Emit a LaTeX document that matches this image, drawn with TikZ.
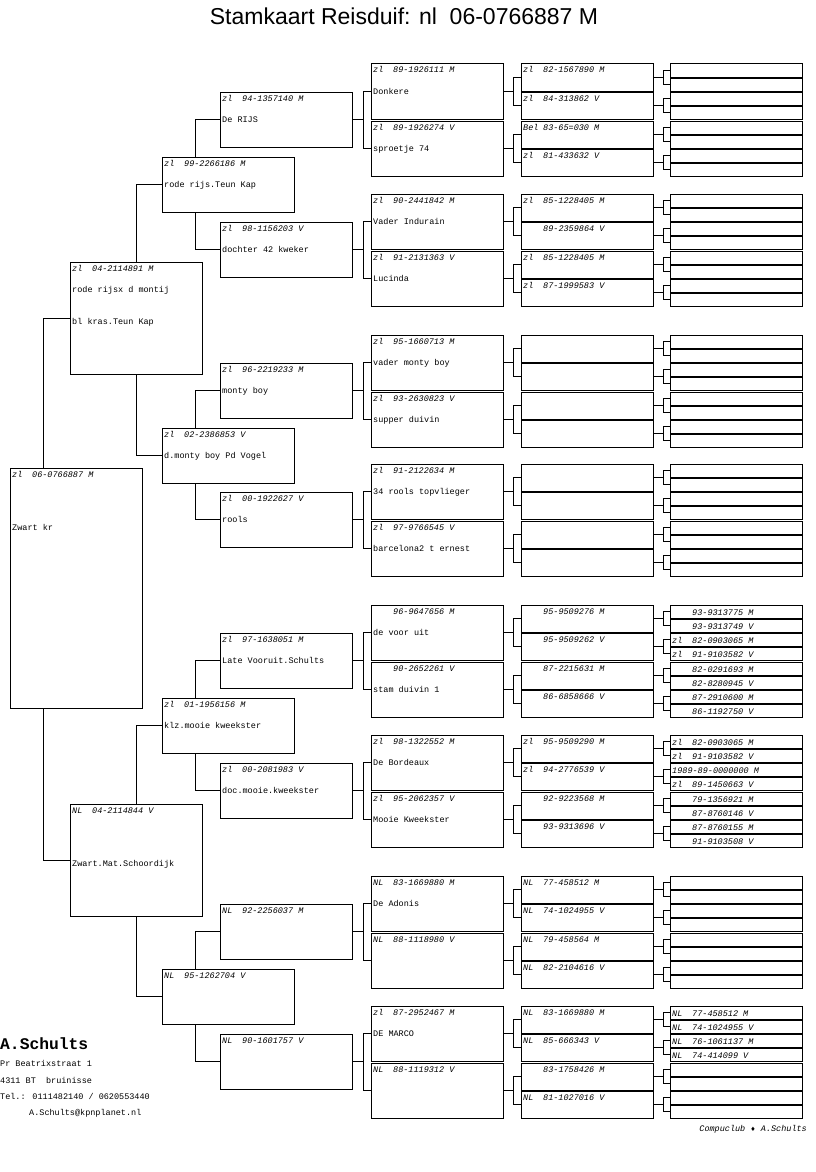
\documentclass[tikz,border=0pt]{standalone}
\usepackage{fontspec}
\setmainfont{Liberation Mono}
\newfontfamily\titlefont{Liberation Sans}
\newfontfamily\symfont{DejaVu Sans}
\usetikzlibrary{calc,positioning}

% ring number at the top of a box, name lines below it
\newcommand{\ring}[4][9]{\node[nr] (#2-r) at ($(#2.north west)+(2,#1)$) {\makebox[20pt][l]{#3}#4};}
\newcommand{\naam}[3][30]{\node[nm] (#2-n#1) at ($(#2.north west)+(2,#1)$) {#3};}

\begin{document}
\begin{tikzpicture}[x=1pt,y=-1pt]
\tikzstyle{box}=[draw,line width=1pt,inner sep=0pt,outer sep=0pt,minimum width=132pt,anchor=north west]
\tikzstyle{big}=[box,minimum height=55pt]
\tikzstyle{half}=[box,minimum height=27pt]
\tikzstyle{quarter}=[box,minimum height=13pt]
\tikzstyle{nr}=[anchor=base west,inner sep=0pt,font=\fontsize{8.5}{9}\selectfont\itshape]
\tikzstyle{nm}=[anchor=base west,inner sep=0pt,font=\fontsize{8.5}{9}\selectfont]
\tikzstyle{edge}=[draw,line width=1pt]

\useasboundingbox (0,0) rectangle (816,1172);

\node[font=\titlefont\fontsize{23}{26}\selectfont,anchor=base,inner sep=0pt] (titel) at (404,25) {Stamkaart Reisduif: nl\ \ 06-0766887 M};

% first three generations
\node[box,minimum height=240pt] (g1) at (10,468) {};
\node[box,minimum height=112pt] (g2-1) at (70,262) {};
\node[box,minimum height=112pt] (g2-2) at (70,804) {};
\node[big] (g3-1) at (162,157) {};
\node[big] (g3-2) at (162,428) {};
\node[big] (g3-3) at (162,698) {};
\node[big] (g3-4) at (162,969) {};

% generations 4 and 5
\foreach \p [count=\k] in {64,194,335,464,605,735,876,1006} {
  \pgfmathtruncatemacro\ja{2*\k-1}
  \pgfmathtruncatemacro\jb{2*\k}
  \node[big] (g4-\k) at (220,\p+28) {};
  \node[big] (g5-\ja) at (371,\p) {};
  \node[big] (g5-\jb) at (371,\p+57) {};
  \draw[edge] (g4-\k.east) -- ++(11,0) |- (g5-\ja.west);
  \draw[edge] (g4-\k.east) -- ++(11,0) |- (g5-\jb.west);
}
% generation 6
\foreach \j in {1,...,16} {
  \pgfmathtruncatemacro\ia{2*\j-1}
  \pgfmathtruncatemacro\ib{2*\j}
  \node[half] (g6-\ia) at ($(g5-\j.north west)+(150,0)$) {};
  \node[half] (g6-\ib) at ($(g5-\j.north west)+(150,28)$) {};
  \draw[edge] (g5-\j.east) -- ++(10,0) |- (g6-\ia.west);
  \draw[edge] (g5-\j.east) -- ++(10,0) |- (g6-\ib.west);
}
% generation 7
\foreach \i in {1,...,32} {
  \pgfmathtruncatemacro\ha{2*\i-1}
  \pgfmathtruncatemacro\hb{2*\i}
  \node[quarter] (g7-\ha) at ($(g6-\i.north west)+(149,0)$) {};
  \node[quarter] (g7-\hb) at ($(g6-\i.north west)+(149,14)$) {};
  \draw[edge] (g6-\i.east) -- ++(10,0) |- (g7-\ha.west);
  \draw[edge] (g6-\i.east) -- ++(10,0) |- (g7-\hb.west);
}

% connectors of the first generations
\draw[edge] ($(g1.north west)!.25!(g1.north east)$) |- (g2-1.west);
\draw[edge] ($(g1.south west)!.25!(g1.south east)$) |- (g2-2.west);
\draw[edge] (g2-1.north) |- (g3-1.west);
\draw[edge] (g2-1.south) |- (g3-2.west);
\draw[edge] (g2-2.north) |- (g3-3.west);
\draw[edge] (g2-2.south) |- (g3-4.west);
\foreach \n in {1,...,4} {
  \pgfmathtruncatemacro\ma{2*\n-1}
  \pgfmathtruncatemacro\mb{2*\n}
  \draw[edge] ($(g3-\n.north west)!.25!(g3-\n.north east)$) |- (g4-\ma.west);
  \draw[edge] ($(g3-\n.south west)!.25!(g3-\n.south east)$) |- (g4-\mb.west);
}

% texts
\ring{g1}{zl}{06-0766887 M} \naam[62]{g1}{Zwart kr}
\ring{g2-1}{zl}{04-2114891 M} \naam{g2-1}{rode rijsx d montij} \naam[62]{g2-1}{bl kras.Teun Kap}
\ring{g2-2}{NL}{04-2114844 V} \naam[62]{g2-2}{Zwart.Mat.Schoordijk}
\ring{g3-1}{zl}{99-2266186 M} \naam{g3-1}{rode rijs.Teun Kap}
\ring{g3-2}{zl}{02-2386853 V} \naam{g3-2}{d.monty boy Pd Vogel}
\ring{g3-3}{zl}{01-1956156 M} \naam{g3-3}{klz.mooie kweekster}
\ring{g3-4}{NL}{95-1262704 V}
\ring{g4-1}{zl}{94-1357140 M} \naam{g4-1}{De RIJS}
\ring{g4-2}{zl}{98-1156203 V} \naam{g4-2}{dochter 42 kweker}
\ring{g4-3}{zl}{96-2219233 M} \naam{g4-3}{monty boy}
\ring{g4-4}{zl}{00-1922627 V} \naam{g4-4}{rools}
\ring{g4-5}{zl}{97-1638051 M} \naam{g4-5}{Late Vooruit.Schults}
\ring{g4-6}{zl}{00-2081983 V} \naam{g4-6}{doc.mooie.kweekster}
\ring{g4-7}{NL}{92-2256037 M}
\ring{g4-8}{NL}{90-1601757 V}

\ring{g5-1}{zl}{89-1926111 M} \naam{g5-1}{Donkere}
\ring{g5-2}{zl}{89-1926274 V} \naam{g5-2}{sproetje 74}
\ring{g5-3}{zl}{90-2441842 M} \naam{g5-3}{Vader Indurain}
\ring{g5-4}{zl}{91-2131363 V} \naam{g5-4}{Lucinda}
\ring{g5-5}{zl}{95-1660713 M} \naam{g5-5}{vader monty boy}
\ring{g5-6}{zl}{93-2630823 V} \naam{g5-6}{supper duivin}
\ring{g5-7}{zl}{91-2122634 M} \naam{g5-7}{34 rools topvlieger}
\ring{g5-8}{zl}{97-9766545 V} \naam{g5-8}{barcelona2 t ernest}
\ring{g5-9}{}{96-9647656 M} \naam{g5-9}{de voor uit}
\ring{g5-10}{}{90-2652261 V} \naam{g5-10}{stam duivin 1}
\ring{g5-11}{zl}{98-1322552 M} \naam{g5-11}{De Bordeaux}
\ring{g5-12}{zl}{95-2062357 V} \naam{g5-12}{Mooie Kweekster}
\ring{g5-13}{NL}{83-1669880 M} \naam{g5-13}{De Adonis}
\ring{g5-14}{NL}{88-1118980 V}
\ring{g5-15}{zl}{87-2952467 M} \naam{g5-15}{DE MARCO}
\ring{g5-16}{NL}{88-1119312 V}

\ring{g6-1}{zl}{82-1567890 M}
\ring{g6-2}{zl}{84-313862 V}
\ring{g6-3}{Bel}{83-65=030 M}
\ring{g6-4}{zl}{81-433632 V}
\ring{g6-5}{zl}{85-1228405 M}
\ring{g6-6}{}{89-2359864 V}
\ring{g6-7}{zl}{85-1228405 M}
\ring{g6-8}{zl}{87-1999583 V}
\ring{g6-17}{}{95-9509276 M}
\ring{g6-18}{}{95-9509262 V}
\ring{g6-19}{}{87-2215631 M}
\ring{g6-20}{}{86-6858666 V}
\ring{g6-21}{zl}{95-9509290 M}
\ring{g6-22}{zl}{94-2776539 V}
\ring{g6-23}{}{92-9223568 M}
\ring{g6-24}{}{93-9313696 V}
\ring{g6-25}{NL}{77-458512 M}
\ring{g6-26}{NL}{74-1024955 V}
\ring{g6-27}{NL}{79-458564 M}
\ring{g6-28}{NL}{82-2104616 V}
\ring{g6-29}{NL}{83-1669880 M}
\ring{g6-30}{NL}{85-666343 V}
\ring{g6-31}{}{83-1758426 M}
\ring{g6-32}{NL}{81-1027016 V}

\ring[10]{g7-33}{}{93-9313775 M}
\ring[10]{g7-34}{}{93-9313749 V}
\ring[10]{g7-35}{zl}{82-0903065 M}
\ring[10]{g7-36}{zl}{91-9103582 V}
\ring[10]{g7-37}{}{82-0291693 M}
\ring[10]{g7-38}{}{82-8280945 V}
\ring[10]{g7-39}{}{87-2910600 M}
\ring[10]{g7-40}{}{86-1192750 V}
\ring[10]{g7-41}{zl}{82-0903065 M}
\ring[10]{g7-42}{zl}{91-9103582 V}
\node[nr] (g7-43-r) at ($(g7-43.north west)+(2,10)$) {1989-89-0000000 M};
\ring[10]{g7-44}{zl}{89-1450663 V}
\ring[10]{g7-45}{}{79-1356921 M}
\ring[10]{g7-46}{}{87-8760146 V}
\ring[10]{g7-47}{}{87-8760155 M}
\ring[10]{g7-48}{}{91-9103508 V}
\ring[10]{g7-57}{NL}{77-458512 M}
\ring[10]{g7-58}{NL}{74-1024955 V}
\ring[10]{g7-59}{NL}{76-1061137 M}
\ring[10]{g7-60}{NL}{74-414099 V}

% owner
\node[anchor=base west,inner sep=0pt,font=\fontsize{16.3}{18}\selectfont\bfseries] (eigenaar) at (0,1049) {A.Schults};
\node[nm] (adres1) at (0,1066) {Pr Beatrixstraat 1};
\node[nm] (adres2) at (0,1083) {4311 BT\ \ bruinisse};
\node[nm] (adres3) at (0,1099) {Tel.: 0111482140 / 0620553440};
\node[nm] (adres4) at (29,1115) {A.Schults@kpnplanet.nl};
\node[nr,anchor=base east] (club) at (807,1131) {Compuclub {\symfont\upshape\fontsize{6}{7}\selectfont ♦} A.Schults};
\end{tikzpicture}
\end{document}
